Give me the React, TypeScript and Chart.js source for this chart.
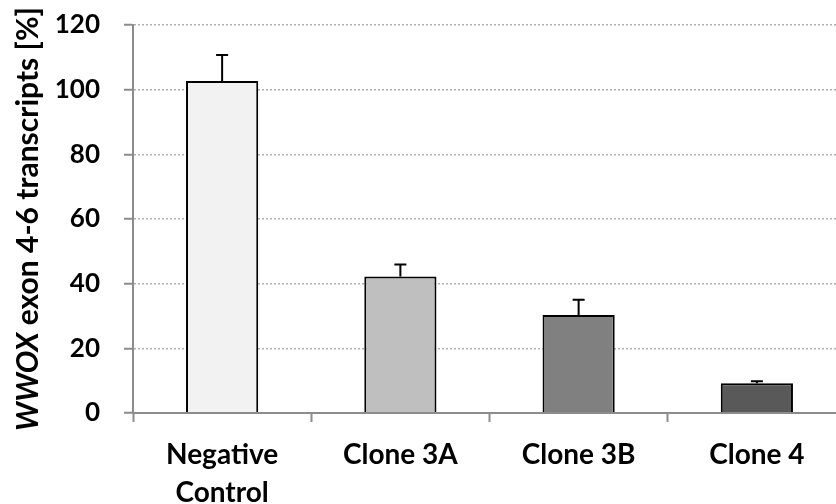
import { useEffect, useRef } from "react";
import { Chart, registerables } from "chart.js";

Chart.register(...registerables);

const categories: (string | string[])[] = [["Negative", "Control"], "Clone 3A", "Clone 3B", "Clone 4"];
const values = [102.7, 42.2, 30.3, 9.2];
const errors = [8.0, 3.7, 4.7, 0.6];
const barColors = ["#f2f2f2", "#bfbfbf", "#808080", "#595959"];
const yMin = 0;
const yMax = 120;
const yStep = 20;
const titleItalic = "WWOX";
const titleRest = " exon 4-6 transcripts [%]";

const FONT = "Lato";

const errorBarPlugin = {
  id: "errorBars",
  afterDatasetsDraw(chart: any) {
    const { ctx } = chart;
    const meta = chart.getDatasetMeta(0);
    const yScale = chart.scales.y;
    ctx.save();
    ctx.strokeStyle = "#000";
    ctx.lineWidth = 2;
    meta.data.forEach((bar: any, i: number) => {
      const x = bar.x;
      const base = bar.y;
      const top = yScale.getPixelForValue(values[i] + errors[i]);
      ctx.beginPath();
      ctx.moveTo(x, base);
      ctx.lineTo(x, top);
      ctx.moveTo(x - 6, top);
      ctx.lineTo(x + 6, top);
      ctx.stroke();
    });
    ctx.restore();
  },
};

const titlePlugin = {
  id: "mixedTitle",
  afterDraw(chart: any) {
    const { ctx, chartArea } = chart;
    const cy = (chartArea.top + chartArea.bottom) / 2;
    ctx.save();
    ctx.translate(38, cy);
    ctx.rotate(-Math.PI / 2);
    ctx.fillStyle = "#000";
    ctx.textBaseline = "alphabetic";
    ctx.textAlign = "left";
    const fItalic = `italic bold 30px ${FONT}`;
    const fBold = `bold 30px ${FONT}`;
    ctx.font = fItalic;
    const w1 = ctx.measureText(titleItalic).width;
    ctx.font = fBold;
    const w2 = ctx.measureText(titleRest).width;
    const start = -(w1 + w2) / 2;
    ctx.font = fItalic;
    ctx.fillText(titleItalic, start, 0);
    ctx.font = fBold;
    ctx.fillText(titleRest, start + w1, 0);
    ctx.restore();
  },
};

export default function App() {
  const ref = useRef<HTMLCanvasElement | null>(null);
  useEffect(() => {
    if (!ref.current) return;
    const chart = new Chart(ref.current, {
      type: "bar",
      data: {
        labels: categories,
        datasets: [
          {
            data: values,
            backgroundColor: barColors,
            borderColor: "#000",
            borderWidth: 2,
            borderSkipped: "bottom",
            barPercentage: 0.405,
            categoryPercentage: 1,
          },
        ],
      },
      options: {
        responsive: false,
        animation: false,
        layout: { padding: { left: 0, top: 25, right: 14, bottom: 0 } },
        plugins: {
          legend: { display: false },
          tooltip: { enabled: false },
          title: { display: false },
        },
        scales: {
          x: {
            offset: true,
            grid: {
              display: true,
              offset: true,
              drawOnChartArea: false,
              drawTicks: true,
              tickLength: 9,
              tickColor: "#8c8c8c",
              tickWidth: 2,
            },
            border: { display: true, color: "#8c8c8c", width: 2, z: 1 },
            ticks: {
              color: "#000",
              padding: 14,
              font: { family: FONT, weight: "bold", size: 28, lineHeight: 1.35 },
              maxRotation: 0,
              autoSkip: false,
            },
            afterFit: (scale: any) => {
              scale.height = 91;
            },
          },
          y: {
            min: yMin,
            max: yMax,
            grid: {
              color: (c: any) => (c.tick && c.tick.value === 0 ? "rgba(0,0,0,0)" : "#b0b0b0"),
              lineWidth: 1.5,
              tickLength: 9,
              tickColor: "#8c8c8c",
              tickWidth: 2,
              tickBorderDash: [],
            },
            border: { display: true, color: "#8c8c8c", width: 2, dash: [2, 2] },
            ticks: {
              stepSize: yStep,
              color: "#000",
              padding: 24,
              font: { family: FONT, weight: "bold", size: 26 },
            },
            afterFit: (scale: any) => {
              scale.width = 133;
              scale.paddingTop = 0;
              scale.paddingBottom = 0;
            },
          },
        },
      },
      plugins: [errorBarPlugin, titlePlugin],
    });
    return () => chart.destroy();
  }, []);
  return (
    <div style={{ position: "absolute", left: 0, top: 0, width: 836, height: 504, overflow: "hidden", background: "#fff" }}>
      <canvas ref={ref} width={860} height={504} style={{ width: 860, height: 504, display: "block" }} />
    </div>
  );
}
